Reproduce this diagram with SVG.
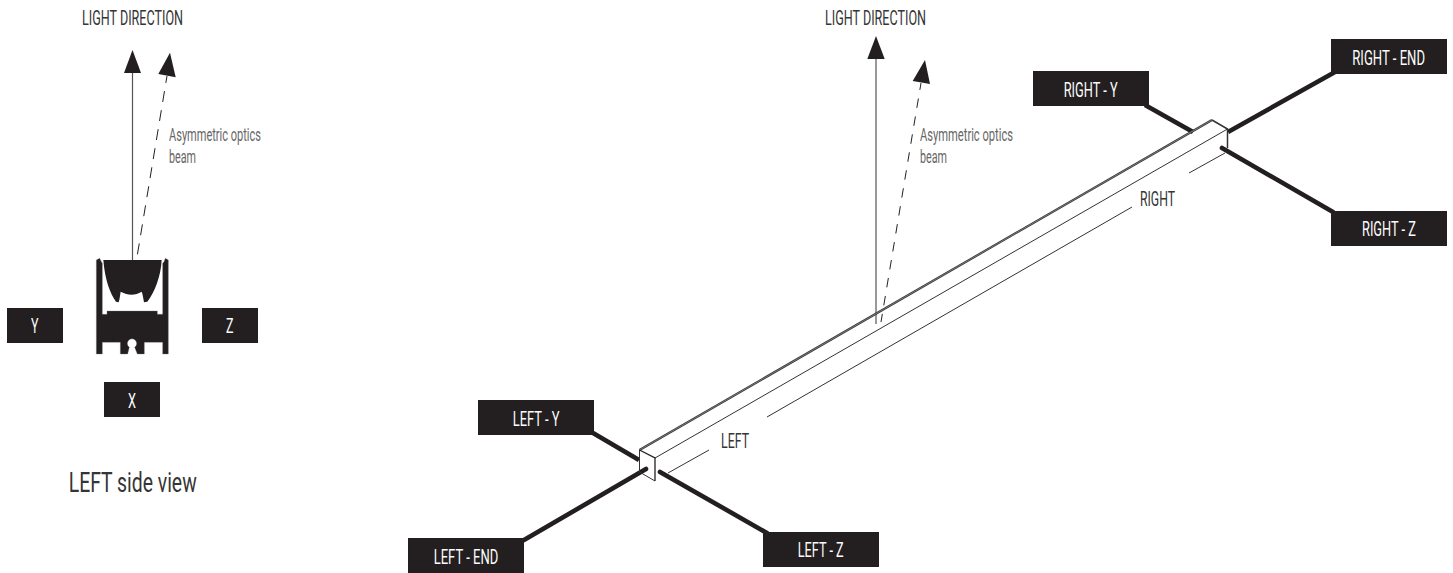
<svg xmlns="http://www.w3.org/2000/svg" width="1453" height="573" viewBox="0 0 1453 573">
<style>
text{font-family:Roboto,"Liberation Sans",sans-serif;font-weight:400;opacity:.99}
.box{fill:#231f20}
.lbl{fill:#fff;font-size:21px}
.cap{fill:#333;font-size:21px}
.note{fill:#666;font-size:17.5px}
.thick{stroke:#231f20;stroke-width:4.6;fill:none}
.thin{stroke:#333;stroke-width:1;fill:none}
.axis{stroke:#555;stroke-width:1.2;fill:none}
.dash{stroke:#231f20;stroke-width:1;fill:none}
.head{fill:#231f20}
</style>
<rect width="1453" height="573" fill="#fff"/>
<g id="connectors">
<path class="axis" d="M132.5 73V260"/>
<path class="dash" stroke-dasharray="11 8.3" stroke-dashoffset="4" d="M167 76L137 257"/>
<path class="axis" d="M876 59V324"/>
<path class="dash" stroke-dasharray="9.5 8.7" stroke-dashoffset="2.5" d="M921 83L881 322"/>
<path class="thick" d="M593 433L639 460"/>
<path class="thick" d="M524 540L646 469" stroke-linecap="round"/>
<path class="thick" d="M660 472L767 533" stroke-linecap="round"/>
<path class="thick" d="M1145 105L1193 132"/>
<path class="thick" d="M1228 132L1335 72"/>
<path class="thick" d="M1222 148L1333 212" stroke-linecap="round"/>
</g>
<g id="arrowheads">
<polygon class="head" points="132.5,50 124,73 141,73"/>
<polygon class="head" points="170,52.7 158.3,74 175.7,77.3"/>
<polygon class="head" points="876,36 867.3,59 884.7,59"/>
<polygon class="head" points="925,60 912.7,81 930,84"/>
</g>
<g id="profile-bar">
<path d="M639.5 450L1212 120" stroke="#333" stroke-width="2.2" fill="none"/>
<path d="M639.5 450L1212 120" stroke="#aaa" stroke-width=".6" fill="none"/>
<path class="thin" d="M655 458L1227.5 129"/>
<path class="thin" d="M668 473L709 450M767 417L1132 207M1189 173L1225 153"/>
<path class="thin" d="M639.5 450V472L655 481"/>
<path d="M639.5 450L655 458V481" stroke="#231f20" stroke-width="1.3" fill="none"/>
<path d="M1212 120L1227.5 129V148" stroke="#333" stroke-width="1.5" fill="none"/>
</g>
<g id="side-profile" transform="translate(60 230) scale(.33333)">
<path fill="#231f20" stroke="#777" stroke-width="1" d="M109 90L119 85L124 95L127 100V253H141V243H292V253H308V100L312 95L316 85L325 90V372H308V337H253V372H232L224 352A14 14 0 1 0 208 352L203 372H181V337H127V372H109Z"/>
<path fill="#231f20" d="M130 90H305C302 140 285 185 262 215L252 217C250 205 248 192 245 185C225 197 205 197 182 185C180 195 180 205 176 217L168 215C150 190 135 150 130 90Z"/>
</g>
<g id="node-light-left"><text class="cap" x="82" y="25" textLength="101" lengthAdjust="spacingAndGlyphs">LIGHT DIRECTION</text></g>
<g id="node-light-right"><text class="cap" x="825" y="25" textLength="101" lengthAdjust="spacingAndGlyphs">LIGHT DIRECTION</text></g>
<g id="note-left"><text class="note" x="169" y="141" textLength="92" lengthAdjust="spacingAndGlyphs">Asymmetric optics</text><text class="note" x="169" y="163" textLength="27" lengthAdjust="spacingAndGlyphs">beam</text></g>
<g id="note-right"><text class="note" x="920" y="141" textLength="93" lengthAdjust="spacingAndGlyphs">Asymmetric optics</text><text class="note" x="920" y="163" textLength="27" lengthAdjust="spacingAndGlyphs">beam</text></g>
<g id="node-y"><rect class="box" x="7" y="308" width="56" height="35"/><text class="lbl" x="31" y="332.7" textLength="7.5" lengthAdjust="spacingAndGlyphs">Y</text></g>
<g id="node-z"><rect class="box" x="202" y="308" width="56" height="35"/><text class="lbl" x="226" y="332.7" textLength="7.5" lengthAdjust="spacingAndGlyphs">Z</text></g>
<g id="node-x"><rect class="box" x="104" y="382" width="56" height="35"/><text class="lbl" x="128" y="407.7" textLength="8" lengthAdjust="spacingAndGlyphs">X</text></g>
<g id="caption"><text class="cap" style="font-size:28px" x="68.7" y="491.7" textLength="128" lengthAdjust="spacingAndGlyphs">LEFT side view</text></g>
<g id="node-left-y"><rect class="box" x="478" y="400" width="116" height="35"/><text class="lbl" x="512.7" y="425.7" textLength="46.8" lengthAdjust="spacingAndGlyphs">LEFT - Y</text></g>
<g id="node-left-end"><rect class="box" x="408" y="538" width="116" height="35"/><text class="lbl" x="433.7" y="563.7" textLength="64.6" lengthAdjust="spacingAndGlyphs">LEFT - END</text></g>
<g id="node-left-z"><rect class="box" x="763" y="532" width="116" height="35"/><text class="lbl" x="797.7" y="556.7" textLength="46" lengthAdjust="spacingAndGlyphs">LEFT - Z</text></g>
<g id="node-left"><text class="cap" x="721" y="447.7" textLength="28" lengthAdjust="spacingAndGlyphs">LEFT</text></g>
<g id="node-right"><text class="cap" x="1140" y="205.7" textLength="35" lengthAdjust="spacingAndGlyphs">RIGHT</text></g>
<g id="node-right-y"><rect class="box" x="1033" y="71" width="116" height="35"/><text class="lbl" x="1063.7" y="96.7" textLength="54" lengthAdjust="spacingAndGlyphs">RIGHT - Y</text></g>
<g id="node-right-end"><rect class="box" x="1331" y="39" width="116" height="35"/><text class="lbl" x="1352.3" y="64.7" textLength="72.7" lengthAdjust="spacingAndGlyphs">RIGHT - END</text></g>
<g id="node-right-z"><rect class="box" x="1331" y="211" width="116" height="35"/><text class="lbl" x="1362" y="235.7" textLength="54" lengthAdjust="spacingAndGlyphs">RIGHT - Z</text></g>
</svg>
